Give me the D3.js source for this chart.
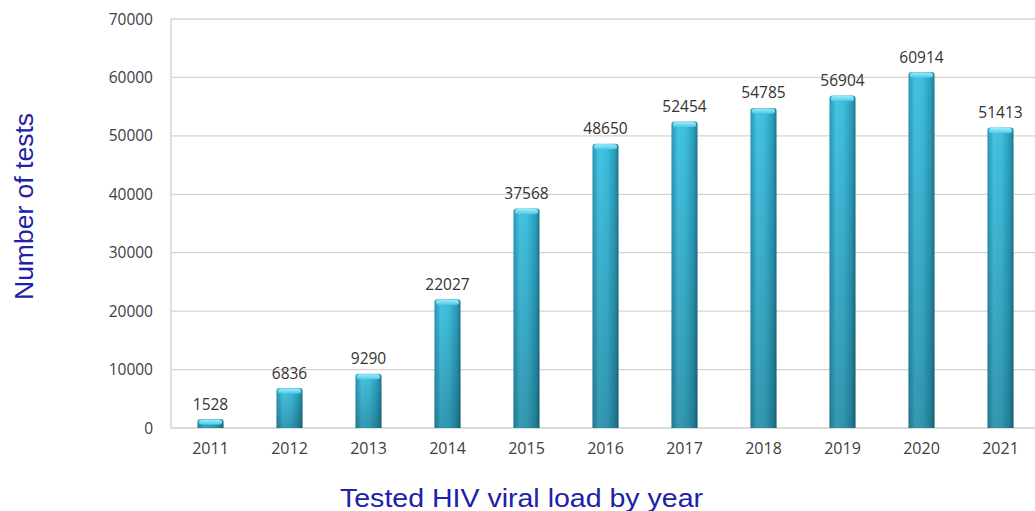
<!DOCTYPE html>
<html><head><meta charset="utf-8">
<script src="https://cdn.jsdelivr.net/npm/d3@7"></script>
<style>body{margin:0;background:#fff;}svg{display:block;}</style>
</head><body>
<svg id="c" width="1035" height="511"></svg>
<script>
const years = ["2011","2012","2013","2014","2015","2016","2017","2018","2019","2020","2021"];
const tests = [1528,6836,9290,22027,37568,48650,52454,54785,56904,60914,51413];
const yTicks = [0,10000,20000,30000,40000,50000,60000,70000];

(function(){
const svg = d3.select("#c");
const pLeft = 171, pBottom = 428, pTop = 19, step = 79;
const numFont = "Open Sans, Liberation Sans, sans-serif";
const x = d3.scaleBand().domain(years).range([pLeft, pLeft + step*years.length]).paddingInner(0.67).paddingOuter(0.335);
const y = d3.scaleLinear().domain([0,70000]).range([pBottom, pTop]);

const defs = svg.append("defs");
const gh = defs.append("linearGradient").attr("id","gh").attr("x1","0").attr("x2","1").attr("y1","0").attr("y2","0");
[["0%","#2a95b3"],["25%","#45c4e4"],["55%","#3ebddd"],["85%","#2b9dbb"],["100%","#1d7890"]].forEach(s=>gh.append("stop").attr("offset",s[0]).attr("stop-color",s[1]));
const gv = defs.append("linearGradient").attr("id","gv").attr("x1","0").attr("x2","0").attr("y1","0").attr("y2","1");
[["0%","#000",0],["100%","#000",0.22]].forEach(s=>gv.append("stop").attr("offset",s[0]).attr("stop-color",s[1]).attr("stop-opacity",s[2]));
const gc = defs.append("linearGradient").attr("id","gc").attr("x1","0").attr("x2","0").attr("y1","0").attr("y2","1");
[["0%","#9eeaf8"],["100%","#4fcbe8"]].forEach(s=>gc.append("stop").attr("offset",s[0]).attr("stop-color",s[1]));

svg.append("g").selectAll("line").data(yTicks.filter(d=>d>0)).join("line")
  .attr("x1",pLeft).attr("x2",1035).attr("y1",d=>y(d)).attr("y2",d=>y(d))
  .attr("stroke","#d4d4d4").attr("stroke-width",1.3);

svg.append("line").attr("x1",pLeft).attr("x2",pLeft).attr("y1",pTop).attr("y2",pBottom).attr("stroke","#cfcfcf").attr("stroke-width",1.3);
svg.append("line").attr("x1",pLeft).attr("x2",1035).attr("y1",pBottom).attr("y2",pBottom).attr("stroke","#cfcfcf").attr("stroke-width",1.3);

svg.append("g").selectAll("text").data(yTicks).join("text")
  .attr("x",153).attr("y",d=>y(d)+5.5).attr("text-anchor","end")
  .attr("font-family",numFont).attr("font-size",15.5).attr("fill","#404040")
  .text(d=>d);

svg.append("g").selectAll("text").data(yTicks.length ? years : []).join("text")
  .attr("x",d=>x(d)+x.bandwidth()/2).attr("y",454).attr("text-anchor","middle")
  .attr("font-family",numFont).attr("font-size",16).attr("fill","#404040")
  .text(d=>d);

const bars = svg.append("g").selectAll("g").data(years.map((d,i)=>({year:d,v:tests[i]}))).join("g");
const bw = x.bandwidth();
function barPath(d){
  const x0 = x(d.year), x1 = x0+bw, y0 = y(d.v), r = 3;
  return `M${x0},${pBottom}L${x0},${y0+r}Q${x0},${y0} ${x0+r},${y0}L${x1-r},${y0}Q${x1},${y0} ${x1},${y0+r}L${x1},${pBottom}Z`;
}
bars.append("path").attr("d",barPath).attr("fill","url(#gh)");
bars.append("path").attr("d",barPath).attr("fill","url(#gv)");
bars.append("rect").attr("x",d=>x(d.year)+1.5).attr("y",d=>y(d.v)+0.5).attr("width",bw-3).attr("height",5).attr("rx",2.5)
  .attr("fill","url(#gc)");

bars.append("text").attr("x",d=>x(d.year)+bw/2).attr("y",d=>y(d.v)-9.5).attr("text-anchor","middle")
  .attr("font-family",numFont).attr("font-size",15.5).attr("fill","#333")
  .text(d=>d.v);

svg.append("text").attr("transform","translate(33,206.5) rotate(-90)").attr("text-anchor","middle")
  .attr("font-family","Liberation Sans, Arial, sans-serif").attr("font-size",26).attr("fill","#2020a8")
  .attr("textLength",187).attr("lengthAdjust","spacingAndGlyphs")
  .text("Number of tests");
svg.append("text").attr("x",521.5).attr("y",507).attr("text-anchor","middle")
  .attr("font-family","Liberation Sans, Arial, sans-serif").attr("font-size",25).attr("fill","#2020a8")
  .attr("textLength",363).attr("lengthAdjust","spacingAndGlyphs")
  .text("Tested HIV viral load by year");
})();
</script>
</body></html>
